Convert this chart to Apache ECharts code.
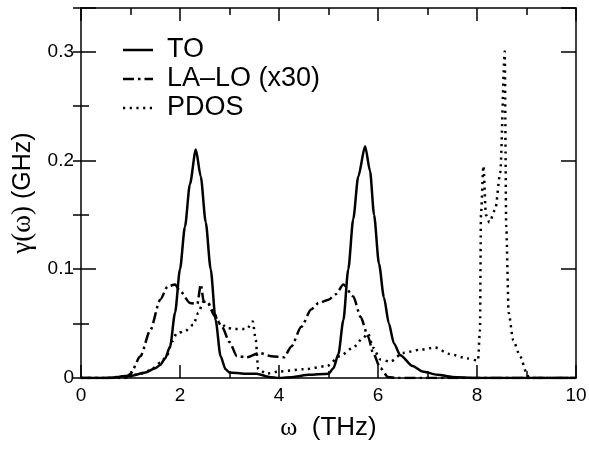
<!DOCTYPE html>
<html>
<head>
<meta charset="utf-8">
<title>gamma(omega)</title>
<script src="https://cdn.jsdelivr.net/npm/echarts@6/dist/echarts.min.js"></script>
<style>
  html, body { margin: 0; padding: 0; background: #fff; }
  #chart { width: 589px; height: 451px; }
</style>
</head>
<body>
<div id="chart"></div>
<script>
// TO 曲线 (omega in THz, gamma in GHz)
const toOmega = [0, 0.5, 1.0, 1.3, 1.5, 1.6, 1.7, 1.8, 1.9, 2.0, 2.1, 2.2, 2.32, 2.42, 2.52, 2.62, 2.72, 2.82, 2.92, 3.0, 3.3, 3.55, 3.8, 4.0, 4.3, 4.6, 5.0, 5.1, 5.2, 5.3, 5.4, 5.5, 5.6, 5.74, 5.84, 5.92, 6.02, 6.12, 6.22, 6.32, 6.45, 6.7, 6.9, 7.2, 7.5, 8.0, 10];
const toGamma = [0, 0, 0.002, 0.005, 0.009, 0.012, 0.018, 0.029, 0.06, 0.10, 0.139, 0.178, 0.21, 0.185, 0.143, 0.10, 0.053, 0.02, 0.008, 0.005, 0.004, 0.004, 0.001, 0, 0.001, 0.003, 0.004, 0.009, 0.022, 0.053, 0.10, 0.146, 0.185, 0.213, 0.19, 0.15, 0.105, 0.074, 0.05, 0.032, 0.021, 0.011, 0.006, 0.003, 0.001, 0, 0];

// LA-LO 曲线 (x30)
const laloOmega = [0, 0.9, 1.0, 1.2, 1.4, 1.6, 1.75, 1.9, 2.0, 2.2, 2.35, 2.42, 2.48, 2.55, 2.7, 2.85, 3.0, 3.15, 3.35, 3.6, 3.85, 4.1, 4.25, 4.45, 4.65, 4.8, 5.0, 5.15, 5.3, 5.5, 5.65, 5.8, 5.9, 6.05, 6.2, 6.4, 10];
const laloGamma = [0, 0, 0.004, 0.02, 0.044, 0.072, 0.084, 0.086, 0.08, 0.069, 0.068, 0.086, 0.07, 0.07, 0.057, 0.047, 0.033, 0.02, 0.019, 0.023, 0.02, 0.019, 0.029, 0.047, 0.063, 0.069, 0.072, 0.077, 0.086, 0.075, 0.056, 0.038, 0.023, 0.009, 0.001, 0, 0];

// PDOS 曲线
const pdosOmega = [0, 0.5, 1.0, 1.2, 1.4, 1.6, 1.73, 1.85, 1.93, 2.1, 2.27, 2.37, 2.47, 2.57, 2.67, 2.8, 2.95, 3.1, 3.35, 3.47, 3.53, 3.58, 3.75, 4.0, 4.5, 4.97, 5.23, 5.5, 5.7, 5.8, 5.9, 6.05, 6.25, 6.5, 6.85, 7.15, 7.45, 7.8, 8.02, 8.06, 8.08, 8.13, 8.18, 8.25, 8.37, 8.47, 8.56, 8.59, 8.64, 8.73, 8.87, 9.0, 9.05, 10];
const pdosGamma = [0, 0, 0.002, 0.004, 0.007, 0.014, 0.02, 0.034, 0.041, 0.043, 0.049, 0.06, 0.07, 0.069, 0.061, 0.051, 0.046, 0.045, 0.045, 0.052, 0.035, 0.008, 0.004, 0.006, 0.008, 0.011, 0.02, 0.028, 0.037, 0.041, 0.028, 0.017, 0.015, 0.023, 0.026, 0.028, 0.022, 0.018, 0.016, 0.044, 0.15, 0.195, 0.15, 0.143, 0.155, 0.189, 0.30, 0.14, 0.06, 0.035, 0.02, 0.005, 0, 0];

const seriesNames = ['TO', 'LA\u2013LO (x30)', 'PDOS'];
const xTicks = [0, 2, 4, 6, 8, 10];
const yTicks = [0, 0.1, 0.2, 0.3];

const zip = (xs, ys) => xs.map((x, i) => [x, ys[i]]);

const FONT = '"Liberation Sans", Arial, Helvetica, sans-serif';
const SERIF = '"Liberation Serif", "DejaVu Serif", serif';
const yMax = 0.34;

// 三种线型: 实线 / 点划线 / 点线
const dashes = ['solid', [11, 4, 2.5, 4], [2.2, 4.5]];

// 坐标轴公共样式
const frameLine = { show: true, onZero: false, lineStyle: { color: '#000', width: 1.5 } };

function xAxisOf(pos, withLabel) {
  return {
    type: 'value', position: pos, min: 0, max: 10, interval: 2,
    axisLine: frameLine,
    axisTick: { inside: true, length: 13, lineStyle: { color: '#000', width: 1.5 } },
    minorTick: { show: true, splitNumber: 2, length: 7, lineStyle: { color: '#000', width: 1.5 } },
    axisLabel: {
      show: withLabel, color: '#000', fontSize: 19, fontFamily: FONT, margin: 8,
      formatter: v => xTicks.indexOf(v) >= 0 ? String(v) : ''
    },
    splitLine: { show: false },
    name: withLabel ? '{s|\u03c9}  (THz)' : '',
    nameLocation: 'middle', nameGap: 37,
    nameTextStyle: {
      color: '#000', fontSize: 26, fontFamily: FONT,
      rich: { s: { fontSize: 26, fontFamily: SERIF, color: '#000' } }
    }
  };
}

function yAxisOf(pos, major, withLabel) {
  return {
    type: 'value', position: pos, min: 0, max: yMax, interval: major ? 0.1 : 0.05,
    axisLine: major ? frameLine : { show: false },
    axisTick: { inside: true, length: major ? 15 : 8, lineStyle: { color: '#000', width: 1.5 } },
    axisLabel: {
      show: withLabel, color: '#000', fontSize: 19, fontFamily: FONT, margin: 7,
      formatter: v => {
        let hit = yTicks.find(t => Math.abs(t - v) < 1e-6);
        return hit === undefined ? '' : String(hit);
      }
    },
    splitLine: { show: false },
    name: withLabel ? '{s|\u03b3(\u03c9)} (GHz)' : '',
    nameLocation: 'middle', nameGap: 44,
    nameTextStyle: {
      color: '#000', fontSize: 25, fontFamily: FONT,
      rich: { s: { fontSize: 27, fontFamily: SERIF, color: '#000' } }
    }
  };
}

// 图例: 手动画线段 + 文字
function legendItems() {
  const items = [];
  const rowY = [50, 79, 108];
  seriesNames.forEach((name, i) => {
    items.push({
      type: 'line',
      shape: { x1: 123, y1: rowY[i], x2: 153, y2: rowY[i] },
      style: { stroke: '#000', lineWidth: 2.5, lineDash: dashes[i] === 'solid' ? null : dashes[i] }
    });
    items.push({
      type: 'text', x: 167, y: rowY[i],
      style: { text: name, fill: '#000', font: '27px ' + FONT, textVerticalAlign: 'middle', verticalAlign: 'middle' }
    });
  });
  return items;
}

const chart = echarts.init(document.getElementById('chart'), null, { renderer: 'canvas' });

const lineBase = { type: 'line', xAxisIndex: 0, yAxisIndex: 0, showSymbol: false, symbol: 'none', smooth: 0.25, smoothMonotone: 'x', animation: false };

chart.setOption({
  backgroundColor: '#fff',
  animation: false,
  grid: { left: 81, right: 13, top: 8, bottom: 73, containLabel: false, outerBoundsMode: 'none' },
  xAxis: [xAxisOf('bottom', true), xAxisOf('top', false)],
  yAxis: [yAxisOf('left', true, true), yAxisOf('left', false, false), yAxisOf('right', true, false), yAxisOf('right', false, false)],
  graphic: legendItems(),
  series: [
    Object.assign({}, lineBase, {
      name: seriesNames[0], data: zip(toOmega, toGamma),
      lineStyle: { color: '#000', width: 2.5, type: dashes[0] }
    }),
    Object.assign({}, lineBase, {
      name: seriesNames[1], data: zip(laloOmega, laloGamma),
      lineStyle: { color: '#000', width: 2.5, type: dashes[1] }
    }),
    Object.assign({}, lineBase, {
      name: seriesNames[2], data: zip(pdosOmega, pdosGamma),
      lineStyle: { color: '#000', width: 2.5, type: dashes[2] }
    })
  ]
});
</script>
</body>
</html>
